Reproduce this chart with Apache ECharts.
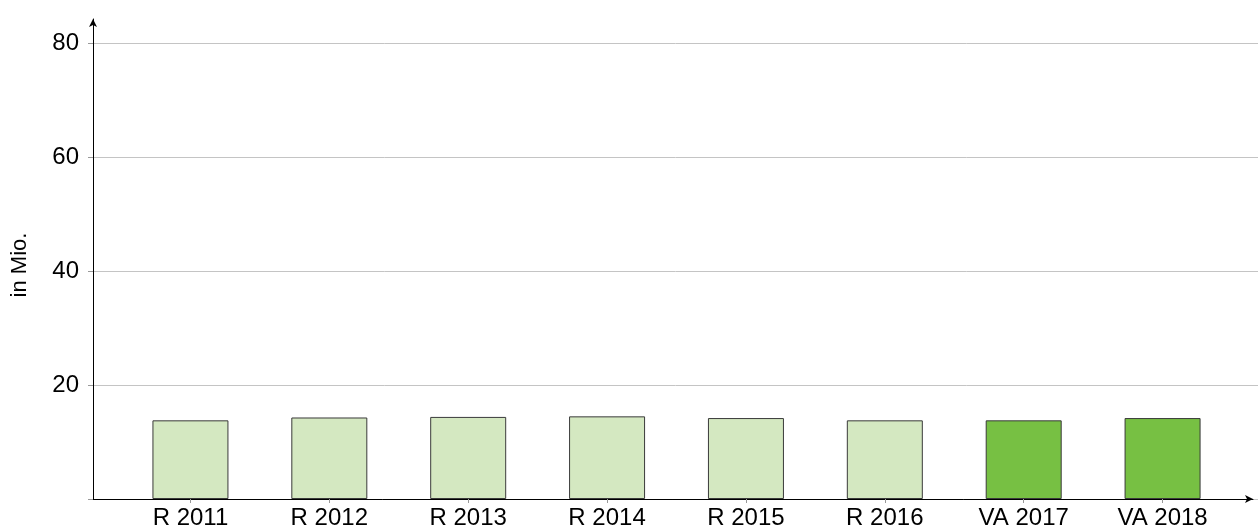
<!DOCTYPE html>
<html>
<head>
<meta charset="utf-8">
<script src="https://cdn.jsdelivr.net/npm/echarts@6/dist/echarts.min.js"></script>
<style>
html,body{margin:0;padding:0;background:#fff;}
#chart{width:1258px;height:527px;}
</style>
</head>
<body>
<div id="chart"></div>
<script>
const categories = ['R 2011','R 2012','R 2013','R 2014','R 2015','R 2016','VA 2017','VA 2018'];
const values = [13.8, 14.3, 14.4, 14.5, 14.2, 13.8, 13.8, 14.2];
const isForecast = [false, false, false, false, false, false, true, true];
const yTicks = [0, 20, 40, 60, 80];
const yName = 'in Mio.';

const FONT = '"Liberation Sans", Arial, Helvetica, sans-serif';
const colorActual = '#d4e8c1';
const colorForecast = '#77c043';

const chart = echarts.init(document.getElementById('chart'), null, {renderer: 'canvas'});
const option = {
  animation: false,
  backgroundColor: '#fff',
  textStyle: {fontFamily: FONT},
  grid: [
    {left: 93, right: 0, top: 43, bottom: 28, outerBoundsMode: 'none', containLabel: false},
    {left: 93, right: 5, top: 19, bottom: 28, outerBoundsMode: 'none', containLabel: false},
    {left: 121, right: 26, top: 43, bottom: 28, outerBoundsMode: 'none', containLabel: false}
  ],
  xAxis: [
    {gridIndex: 0, type: 'value', min: 0, max: 1, show: false},
    {gridIndex: 1, type: 'value', min: 0, max: 1,
      axisLine: {show: true, onZero: false, lineStyle: {color: '#000', width: 1},
        symbol: ['none', 'arrow'], symbolSize: [6, 8]},
      axisTick: {show: false}, axisLabel: {show: false}, splitLine: {show: false}},
    {gridIndex: 2, type: 'category', data: categories,
      axisLine: {show: false},
      axisTick: {show: true, alignWithLabel: true, length: 4, lineStyle: {color: '#999'}},
      axisLabel: {color: '#000', fontSize: 24, fontFamily: FONT, margin: 7},
      splitLine: {show: false}}
  ],
  yAxis: [
    {gridIndex: 0, type: 'value', min: yTicks[0], max: yTicks[yTicks.length - 1], interval: 20,
      axisLine: {show: false},
      axisTick: {show: true, length: 5, lineStyle: {color: '#999'}},
      axisLabel: {color: '#000', fontSize: 24, fontFamily: FONT, margin: 14,
        formatter: v => (v === 0 ? '' : String(v))},
      splitLine: {show: true, lineStyle: {color: '#c4c4c4', width: 1}},
      name: yName, nameLocation: 'middle', nameGap: 62, nameRotate: 90,
      nameTextStyle: {color: '#000', fontSize: 22, fontFamily: FONT, padding: [0, 0, 0, 12]}},
    {gridIndex: 1, type: 'value', min: 0, max: 1,
      axisLine: {show: true, onZero: false, lineStyle: {color: '#000', width: 1},
        symbol: ['none', 'arrow'], symbolSize: [6, 8]},
      axisTick: {show: false}, axisLabel: {show: false}, splitLine: {show: false}},
    {gridIndex: 2, type: 'value', min: yTicks[0], max: yTicks[yTicks.length - 1], show: false,
      splitLine: {show: false}}
  ],
  series: [{
    type: 'bar',
    xAxisIndex: 2,
    yAxisIndex: 2,
    barWidth: 76,
    data: values.map((v, i) => ({
      value: v,
      itemStyle: {color: isForecast[i] ? colorForecast : colorActual}
    })),
    itemStyle: {borderColor: '#3a3a3a', borderWidth: 1}
  }]
};
chart.setOption(option);
</script>
</body>
</html>
